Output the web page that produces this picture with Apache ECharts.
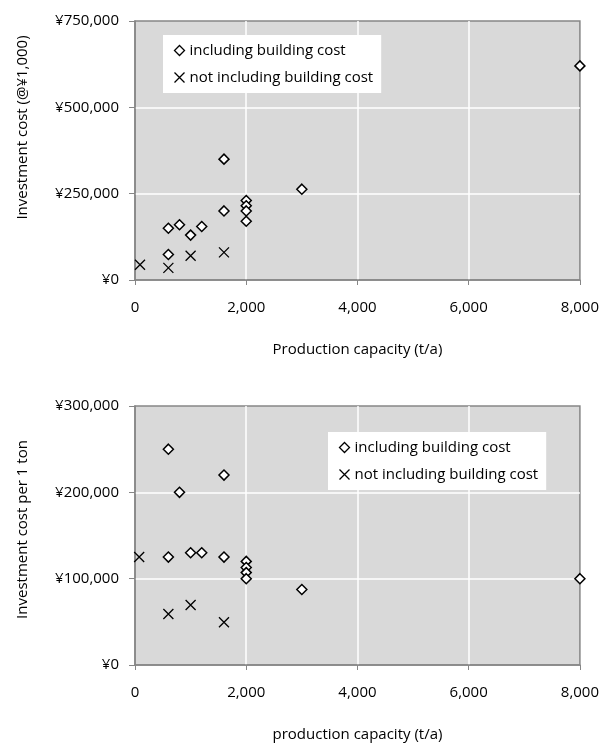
<!DOCTYPE html>
<html>
<head>
<meta charset="utf-8">
<script src="https://cdn.jsdelivr.net/npm/echarts@6/dist/echarts.min.js"></script>
<style>
html,body{margin:0;padding:0;background:#fff;}
#c{width:602px;height:743px;}
</style>
</head>
<body>
<div id="c"></div>
<script>
// ---- Data ----
const seriesNames = ['including building cost', 'not including building cost'];
const xTicks = [0, 2000, 4000, 6000, 8000];

// Top chart: total investment cost (@¥1,000)
const capInclTop  = [8000, 1600, 3000, 2000, 2000, 2000, 2000, 1600, 600, 800, 1000, 1200, 600];
const costInclTop = [620000, 350000, 263000, 230000, 215000, 200000, 170000, 200000, 150000, 160000, 130000, 155000, 74000];
const capExclTop  = [90, 600, 1000, 1600];
const costExclTop = [44000, 35000, 70000, 80000];

// Bottom chart: investment cost per 1 ton
const capInclBot  = [600, 1600, 800, 600, 1000, 1200, 1600, 2000, 2000, 2000, 2000, 3000, 8000];
const costInclBot = [250000, 220000, 200000, 125000, 130000, 130000, 125000, 120000, 113000, 107000, 100000, 87500, 100000];
const capExclBot  = [75, 600, 1000, 1600];
const costExclBot = [125000, 59000, 69500, 49500];

const pair = (xs, ys) => xs.map((x, i) => [x, ys[i]]);

const FONT = 'Open Sans';
const AXIS_GREY = '#868686';
const DIAMOND = 'path://M5,0L10,5L5,10L0,5Z';
const CROSS = 'path://M0,0L10,10M10,0L0,10';

function xAxisCfg(gridIndex, name, nameGap) {
  return {
    type: 'value', gridIndex, min: 0, max: 8000, interval: 2000,
    name, nameLocation: 'middle', nameGap,
    nameTextStyle: {fontFamily: FONT, fontSize: 15, color: '#000'},
    axisLine: {show: true, lineStyle: {color: AXIS_GREY, width: 1.5}},
    axisTick: {show: true, length: 5, lineStyle: {color: AXIS_GREY}},
    axisLabel: {fontFamily: FONT, fontSize: 15, color: '#000', margin: 20,
      formatter: v => v.toLocaleString('en-US')},
    splitLine: {show: true, showMinLine: false, showMaxLine: false, lineStyle: {color: '#fff', width: 1.5}}
  };
}
function yAxisCfg(gridIndex, name, max, interval, pad) {
  return {
    type: 'value', gridIndex, min: 0, max, interval,
    name, nameLocation: 'middle', nameGap: 105,
    nameTextStyle: {fontFamily: FONT, fontSize: 15, color: '#000', padding: pad},
    axisLine: {show: true, lineStyle: {color: AXIS_GREY, width: 1.5}},
    axisTick: {show: true, length: 6, lineStyle: {color: AXIS_GREY}},
    axisLabel: {fontFamily: FONT, fontSize: 15, color: '#000', margin: 16,
      formatter: v => '¥' + v.toLocaleString('en-US')},
    splitLine: {show: true, showMinLine: false, showMaxLine: false, lineStyle: {color: '#fff', width: 1.5}}
  };
}
function diamondSeries(xi, data) {
  return {
    name: seriesNames[0], type: 'scatter', xAxisIndex: xi, yAxisIndex: xi,
    symbol: DIAMOND, symbolSize: 10, data,
    itemStyle: {color: '#fff', borderColor: '#000', borderWidth: 1.5, opacity: 1},
    emphasis: {disabled: true}
  };
}
function crossSeries(xi, data) {
  return {
    name: seriesNames[1], type: 'scatter', xAxisIndex: xi, yAxisIndex: xi,
    symbol: CROSS, symbolSize: 10, data,
    itemStyle: {color: 'none', borderColor: '#000', borderWidth: 1.3, opacity: 1},
    emphasis: {disabled: true}
  };
}
function legendCfg(left, top) {
  return {
    orient: 'vertical', left, top, width: 200,
    backgroundColor: '#fff', padding: [8, 8, 8, 9], itemGap: 12,
    itemWidth: 10, itemHeight: 10, selectedMode: false,
    textStyle: {fontFamily: FONT, fontSize: 15, color: '#000'},
    data: [
      {name: seriesNames[0], icon: DIAMOND, itemStyle: {color: '#fff', borderColor: '#000', borderWidth: 1.3}},
      {name: seriesNames[1], icon: CROSS, itemStyle: {color: 'none', borderColor: '#000', borderWidth: 1.3}}
    ]
  };
}

const chart = echarts.init(document.getElementById('c'), null, {renderer: 'canvas'});
chart.setOption({
  animation: false,
  backgroundColor: '#fff',
  grid: [
    {left: 135, top: 21, width: 446, height: 259, show: true, backgroundColor: '#d9d9d9', borderColor: AXIS_GREY, borderWidth: 1.5},
    {left: 135, top: 406, width: 446, height: 259, show: true, backgroundColor: '#d9d9d9', borderColor: AXIS_GREY, borderWidth: 1.5}
  ],
  xAxis: [
    xAxisCfg(0, 'Production capacity (t/a)', 62),
    xAxisCfg(1, 'production capacity (t/a)', 62)
  ],
  yAxis: [
    yAxisCfg(0, 'Investment cost (@¥1,000)', 750000, 250000, [0, 0, 0, 46]),
    yAxisCfg(1, 'Investment cost per 1 ton', 300000, 100000, [0, 0, 0, 12])
  ],
  legend: [legendCfg(163, 35), legendCfg(328, 432)],
  series: [
    diamondSeries(0, pair(capInclTop, costInclTop)),
    crossSeries(0, pair(capExclTop, costExclTop)),
    diamondSeries(1, pair(capInclBot, costInclBot)),
    crossSeries(1, pair(capExclBot, costExclBot))
  ]
});
</script>
</body>
</html>
